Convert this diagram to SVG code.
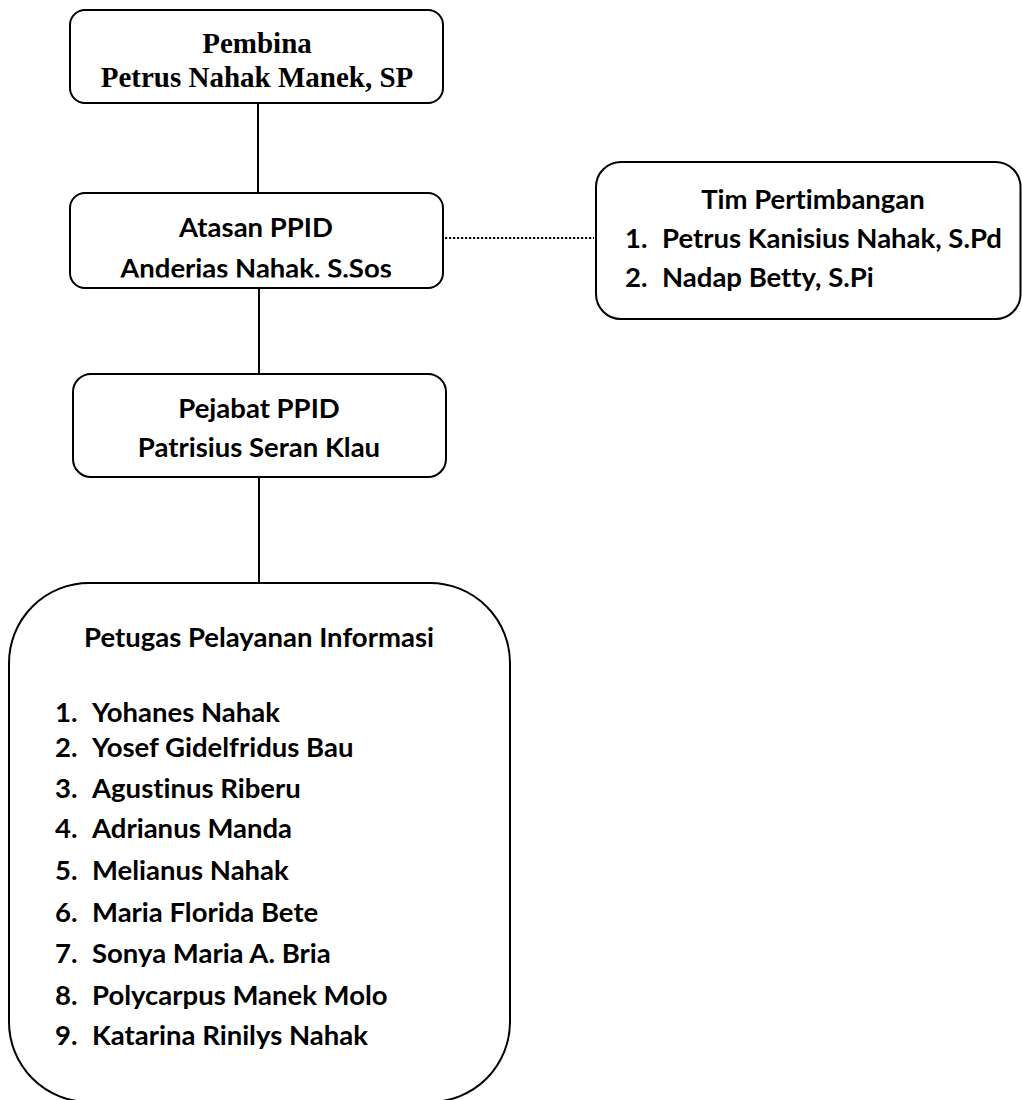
<svg xmlns="http://www.w3.org/2000/svg" width="1022" height="1100" viewBox="0 0 1022 1100">
<style>
.box{fill:#fff;stroke:#000;stroke-width:2}
.ln{stroke:#000;stroke-width:2;fill:none}
.dot{stroke:#000;stroke-width:2.2;fill:none;stroke-dasharray:2.2 1.8}
.serif{font-family:"Liberation Serif","Times New Roman",serif;font-weight:bold;font-size:29px;fill:#000}
.sans{font-family:Lato,"Open Sans",sans-serif;font-weight:bold;font-size:27.5px;fill:#000;font-variant-ligatures:none}
.c{text-anchor:middle}
</style>
<defs>
<clipPath id="clipAtasan"><rect x="70" y="193" width="373" height="84.5"/></clipPath>
</defs>
<rect width="1022" height="1100" fill="#fff"/>
<g id="connectors">
<line class="ln" x1="258" y1="103" x2="258" y2="193"/>
<line class="ln" x1="259" y1="286" x2="259" y2="374"/>
<line class="ln" x1="259" y1="477" x2="259" y2="583"/>
<line class="dot" x1="445" y1="238" x2="594" y2="238"/>
</g>
<g id="pembina">
<rect class="box" x="70" y="10" width="373" height="93" rx="15"/>
<text class="serif c" x="257" y="53">Pembina</text>
<text class="serif c" x="257" y="87">Petrus Nahak Manek, SP</text>
</g>
<g id="atasan">
<rect class="box" x="70" y="193" width="373" height="95" rx="15"/>
<text class="sans c" x="256" y="237">Atasan PPID</text>
<text class="sans c" x="256" y="278" clip-path="url(#clipAtasan)">Anderias Nahak. S.Sos</text>
</g>
<g id="tim">
<rect class="box" x="596" y="162" width="424.5" height="157" rx="25"/>
<text class="sans c" x="813" y="209">Tim Pertimbangan</text>
<text class="sans" x="625" y="248">1.</text>
<text class="sans" x="662" y="248">Petrus Kanisius Nahak, S.Pd</text>
<text class="sans" x="625" y="287">2.</text>
<text class="sans" x="662" y="287">Nadap Betty, S.Pi</text>
</g>
<g id="pejabat">
<rect class="box" x="73" y="374" width="373" height="103" rx="18"/>
<text class="sans c" x="259" y="418">Pejabat PPID</text>
<text class="sans c" x="259" y="457">Patrisius Seran Klau</text>
</g>
<g id="petugas">
<rect class="box" x="9" y="583" width="501" height="519" rx="80"/>
<text class="sans c" x="259" y="647">Petugas Pelayanan Informasi</text>
<text class="sans" x="55" y="722">1.</text><text class="sans" x="92" y="722">Yohanes Nahak</text>
<text class="sans" x="55" y="757">2.</text><text class="sans" x="92" y="757">Yosef Gidelfridus Bau</text>
<text class="sans" x="55" y="798">3.</text><text class="sans" x="92" y="798">Agustinus Riberu</text>
<text class="sans" x="55" y="838">4.</text><text class="sans" x="92" y="838">Adrianus Manda</text>
<text class="sans" x="55" y="880">5.</text><text class="sans" x="92" y="880">Melianus Nahak</text>
<text class="sans" x="55" y="922">6.</text><text class="sans" x="92" y="922">Maria Florida Bete</text>
<text class="sans" x="55" y="963">7.</text><text class="sans" x="92" y="963">Sonya Maria A. Bria</text>
<text class="sans" x="55" y="1005">8.</text><text class="sans" x="92" y="1005">Polycarpus Manek Molo</text>
<text class="sans" x="55" y="1045">9.</text><text class="sans" x="92" y="1045">Katarina Rinilys Nahak</text>
</g>
</svg>
